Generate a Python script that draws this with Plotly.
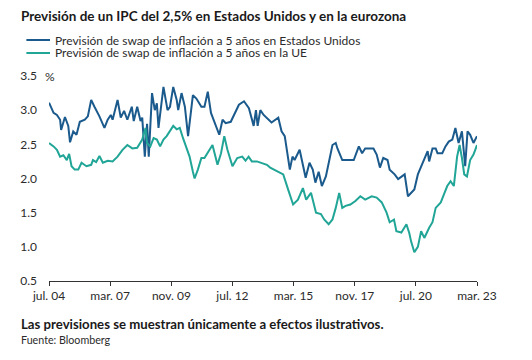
import plotly.graph_objects as go

# ---------------- data ----------------
us_dates = ["2004-07-01","2004-09-12","2004-11-04","2004-12-25","2005-01-10","2005-03-12","2005-05-04","2005-06-01",
"2005-07-22","2005-09-12","2005-11-04","2006-01-22","2006-03-12","2006-05-04","2006-06-25","2006-09-12","2006-12-01",
"2007-01-22","2007-03-12","2007-04-10","2007-06-28","2007-08-18","2007-10-10","2007-12-01","2008-02-10","2008-03-12",
"2008-05-06","2008-06-28","2008-07-25","2008-09-04","2008-10-10","2008-11-06","2008-12-28","2009-02-10","2009-03-15",
"2009-04-10","2009-06-28","2009-09-01","2009-10-10","2009-12-01","2010-01-25","2010-02-18","2010-04-12","2010-06-04",
"2010-07-25","2010-10-10","2010-12-04","2011-02-22","2011-04-12","2011-06-04","2011-07-25","2011-10-12","2011-12-04",
"2012-01-25","2012-03-15","2012-06-04","2012-08-22","2012-10-12","2013-01-01","2013-03-20","2013-06-04","2013-07-10",
"2013-08-06","2013-09-18","2013-11-10","2014-01-25","2014-03-15","2014-07-01","2014-08-22","2014-10-12","2015-01-01",
"2015-02-12","2015-03-18","2015-06-06","2015-09-10","2015-11-10","2016-01-01","2016-02-12","2016-04-04","2016-05-25",
"2016-07-28","2016-11-10","2017-01-01","2017-01-28","2017-04-15","2017-07-28","2017-10-15","2018-01-04","2018-02-25",
"2018-04-15","2018-06-06","2018-08-25","2018-10-15","2018-12-06","2019-01-28","2019-04-06","2019-05-10","2019-07-28",
"2019-09-22","2019-11-12","2020-01-04","2020-02-25","2020-04-15","2020-06-06","2020-08-01","2020-09-22","2020-11-12",
"2021-01-04","2021-01-28","2021-03-22","2021-05-12","2021-06-10","2021-08-25","2021-10-15","2021-12-06","2022-02-01",
"2022-03-22","2022-05-12","2022-07-04","2022-08-25","2022-10-01","2022-11-12","2023-01-04","2023-03-01"]
us_values = [3.11,2.96,2.93,2.86,2.71,2.90,2.77,2.53,
2.69,2.64,2.83,2.86,2.91,3.15,3.05,2.91,2.74,
2.86,2.93,2.86,3.15,2.89,2.99,2.86,3.05,2.84,
3.05,2.84,2.89,2.32,2.80,2.32,3.25,3.00,3.10,
2.74,3.34,3.00,3.05,3.34,3.15,3.00,3.25,3.05,
2.62,3.22,3.17,3.05,3.05,3.27,2.96,2.77,2.64,
2.86,2.81,2.83,2.99,3.08,3.13,3.03,2.77,3.00,
2.77,3.00,2.93,2.86,2.82,2.89,2.69,2.62,2.13,
2.32,2.27,2.42,2.01,2.23,2.13,1.94,2.10,1.89,
2.03,2.49,2.52,2.44,2.27,2.27,2.27,2.47,2.37,
2.44,2.44,2.44,2.35,2.16,2.30,2.27,2.13,2.06,
1.99,2.02,2.06,1.74,1.79,1.84,2.06,2.18,2.27,
2.40,2.25,2.44,2.44,2.37,2.37,2.47,2.54,2.57,
2.74,2.52,2.69,2.18,2.69,2.64,2.52,2.62]

eu_dates = ["2004-07-01","2004-09-12","2004-11-04","2004-12-25","2005-02-15","2005-04-10","2005-05-18","2005-06-25",
"2005-08-15","2005-10-10","2005-12-01","2006-02-18","2006-05-04","2006-06-01","2006-07-22","2006-09-12","2006-11-06",
"2007-01-22","2007-04-10","2007-06-28","2007-09-15","2007-12-01","2008-02-18","2008-05-06","2008-07-25","2008-09-15",
"2008-10-10","2008-12-01","2009-01-22","2009-03-15","2009-05-06","2009-06-28","2009-08-18","2009-10-10","2009-12-01",
"2010-01-25","2010-03-15","2010-05-06","2010-06-28","2010-08-18","2010-10-10","2010-11-06","2010-12-28","2011-02-22",
"2011-04-12","2011-06-28","2011-08-18","2011-11-06","2012-01-01","2012-02-22","2012-04-12","2012-07-01","2012-09-15",
"2012-12-04","2013-01-25","2013-03-15","2013-05-06","2013-07-25","2013-10-12","2014-01-01","2014-02-22","2014-07-01",
"2014-09-18","2014-12-04","2015-02-22","2015-05-10","2015-07-28","2015-09-18","2015-12-04","2016-02-22","2016-05-10",
"2016-07-01","2016-09-10","2016-11-10","2017-01-01","2017-02-25","2017-04-15","2017-06-06","2017-08-22","2017-11-10",
"2018-01-28","2018-04-15","2018-07-28","2018-10-15","2019-01-04","2019-03-22","2019-05-10","2019-07-18","2019-08-25",
"2019-11-12","2020-02-01","2020-03-18","2020-04-15","2020-06-06","2020-08-01","2020-09-22","2020-11-12","2021-01-28",
"2021-03-22","2021-05-12","2021-08-01","2021-09-22","2021-11-12","2022-01-04","2022-02-25","2022-04-18","2022-05-28",
"2022-07-04","2022-08-10","2022-09-22","2022-11-12","2023-01-04","2023-03-01"]
eu_values = [2.52,2.47,2.42,2.32,2.34,2.27,2.36,2.18,
2.13,2.13,2.23,2.18,2.20,2.27,2.24,2.33,2.23,
2.26,2.25,2.32,2.42,2.49,2.44,2.45,2.57,2.74,
2.52,2.47,2.59,2.57,2.47,2.57,2.62,2.69,2.77,
2.72,2.74,2.59,2.44,2.32,2.10,2.00,2.13,2.30,
2.30,2.42,2.49,2.20,2.37,2.62,2.42,2.18,2.30,
2.32,2.26,2.32,2.25,2.25,2.23,2.20,2.16,2.10,
2.06,1.84,1.62,1.69,1.86,1.69,1.79,1.50,1.48,
1.40,1.33,1.40,1.57,1.79,1.57,1.60,1.62,1.67,
1.74,1.69,1.74,1.72,1.65,1.50,1.36,1.40,1.23,
1.21,1.33,1.20,1.08,0.92,1.00,1.23,1.13,1.28,
1.36,1.57,1.65,1.77,1.89,1.96,1.89,2.32,2.49,
2.30,2.06,2.03,2.27,2.35,2.49]

series_names = ["Previsión de swap de inflación a 5 años en Estados Unidos",
                "Previsión de swap de inflación a 5 años en la UE"]
series_colors = ["#1b5a8c", "#20a596"]

x_tick_vals = ["2004-07-01","2007-03-01","2009-11-01","2012-07-01","2015-03-01","2017-11-01","2020-07-01","2023-03-01"]
x_tick_text = ["jul. 04","mar. 07","nov. 09","jul. 12","mar. 15","nov. 17","jul. 20","mar. 23"]
y_tick_vals = [0.5, 1.0, 1.5, 2.0, 2.5, 3.0, 3.5]
y_tick_text = ["0.5", "1.0", "1.5", "2.0", "2.5", "3.0", "3.5"]

title_text = "Previsión de un IPC del 2,5% en Estados Unidos y en la eurozona"
note_text = "Las previsiones se muestran únicamente a efectos ilustrativos."
source_text = "Fuente: Bloomberg"

# ---------------- figure ----------------
# the page body adds an 8px offset, so the figure is laid out in page pixels minus 8
OFF = 8
W, H = 532 - OFF, 360 - OFF
PLOT_X0, PLOT_X1, PLOT_Y0, PLOT_Y1 = 42 - OFF, 477 - OFF, 76 - OFF, 281 - OFF
L, R, T, B = PLOT_X0, W - PLOT_X1, PLOT_Y0, H - PLOT_Y1
PW, PH = PLOT_X1 - PLOT_X0, PLOT_Y1 - PLOT_Y0

def px(x):
    return (x - OFF - PLOT_X0) / PW

def py(y):
    return (PLOT_Y1 - (y - OFF)) / PH

FONT = "Lato"
TXT = "#2b2b2b"

fig = go.Figure()
fig.add_trace(go.Scatter(x=us_dates, y=us_values, mode="lines", name=series_names[0],
                         line=dict(color=series_colors[0], width=2), showlegend=False))
fig.add_trace(go.Scatter(x=eu_dates, y=eu_values, mode="lines", name=series_names[1],
                         line=dict(color=series_colors[1], width=2), showlegend=False))

annotations = [
    dict(text="<b>" + title_text + "</b>", x=px(12), y=py(16), font=dict(size=13.5, color="#1a1a1a")),
    dict(text=series_names[0], x=px(46), y=py(40), font=dict(size=12, color=TXT)),
    dict(text=series_names[1], x=px(46), y=py(53), font=dict(size=12, color=TXT)),
    dict(text="%", x=px(36), y=py(76), font=dict(size=12, color=TXT)),
    dict(text="<b>" + note_text + "</b>", x=px(12), y=py(324), font=dict(size=13.2, color="#1a1a1a")),
    dict(text=source_text, x=px(12), y=py(339), font=dict(size=10.7, color=TXT)),
]
for a in annotations:
    a.update(xref="paper", yref="paper", xanchor="left", yanchor="middle", showarrow=False)

shapes = []
for i, yy in enumerate([40, 53]):
    shapes.append(dict(type="line", xref="paper", yref="paper", x0=px(19), x1=px(43), y0=py(yy), y1=py(yy),
                       line=dict(color=series_colors[i], width=2)))

fig.update_layout(
    width=W, height=H,
    margin=dict(l=L, r=R, t=T, b=B, pad=0),
    paper_bgcolor="white", plot_bgcolor="white",
    font=dict(family=FONT, size=12, color=TXT),
    showlegend=False,
    annotations=annotations,
    shapes=shapes,
    xaxis=dict(type="date", range=["2004-07-01", "2023-03-01"], tickmode="array",
               tickvals=x_tick_vals, ticktext=x_tick_text, showgrid=False, zeroline=False,
               showline=True, linecolor="#333333", linewidth=1, ticks="outside", ticklen=4,
               tickcolor="#333333", tickfont=dict(size=12, color=TXT)),
    yaxis=dict(range=[0.5, 3.5], tickmode="array", tickvals=y_tick_vals, ticktext=y_tick_text,
               showgrid=False, zeroline=False, showline=False, ticks="", ticklabelstandoff=11,
               tickfont=dict(size=12, color=TXT)),
)

fig.write_html("out.html")
